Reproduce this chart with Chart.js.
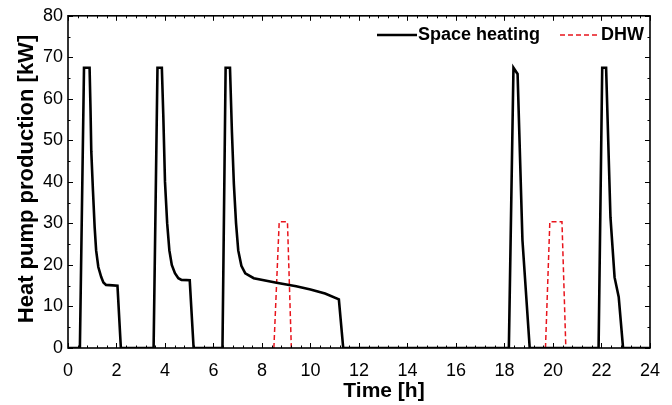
<!DOCTYPE html>
<html>
<head>
<meta charset="utf-8">
<script src="https://cdn.jsdelivr.net/npm/chart.js@4.4.1/dist/chart.umd.min.js"></script>
<style>
  body { margin: 0; background: #fff; }
  #wrap { width: 672px; height: 405px; position: relative; }
</style>
</head>
<body>
<div id="wrap"><canvas id="chart"></canvas></div>
<script>
// Space heating [h, kW]
const spaceTime = [0, 0.49, 0.66, 0.89, 0.93, 0.96, 1.03, 1.1, 1.16, 1.25, 1.37, 1.46, 1.57, 2.04, 2.18,
  3.53, 3.69, 3.87, 3.93, 4.0, 4.09, 4.18, 4.28, 4.41, 4.55, 4.68, 5.02, 5.18,
  6.37, 6.5, 6.68, 6.76, 6.84, 6.93, 7.02, 7.15, 7.31, 7.66, 8.6, 9.41, 10.0, 10.6, 11.17, 11.35,
  18.18, 18.37, 18.54, 18.74, 19.04,
  21.88, 22.03, 22.19, 22.37, 22.54, 22.71, 22.89, 24];
const spacePower = [0, 0, 67.5, 67.5, 57, 47.4, 37.8, 29, 23.5, 19.5, 17.1, 15.8, 15.2, 15, 0,
  0, 67.5, 67.5, 56, 40, 30, 23.5, 20, 18, 16.8, 16.4, 16.3, 0,
  0, 67.5, 67.5, 52, 39.5, 30, 23.5, 19.8, 18, 16.8, 15.7, 14.85, 14.1, 13.1, 11.7, 0,
  0, 67.5, 66, 26, 0,
  0, 67.5, 67.5, 31.5, 17, 12.3, 0, 0];

// DHW [h, kW], null breaks the line between events
const dhwTime = [8.49, 8.71, 9.05, 9.21, 14, 19.69, 19.87, 20.37, 20.53];
const dhwPower = [0, 30.4, 30.4, 0, null, 0, 30.4, 30.4, 0];

const xTicks = [0, 2, 4, 6, 8, 10, 12, 14, 16, 18, 20, 22, 24];
const yTicks = [0, 10, 20, 30, 40, 50, 60, 70, 80];

const FONT = '"Liberation Sans", Arial, sans-serif';

function toPoints(xs, ys) {
  return xs.map((x, i) => ({ x: x, y: ys[i] }));
}

// frame, inward ticks on all four sides, axis titles and legend
const framePlugin = {
  id: 'frame',
  afterDatasetsDraw(chart) {
    const { ctx, chartArea: a, scales } = chart;
    const xs = scales.x, ys = scales.y;
    ctx.save();
    ctx.strokeStyle = '#000';
    ctx.lineWidth = 1;
    ctx.beginPath();
    for (let v = 0; v <= 24.001; v += 0.4) {
      const px = Math.round(xs.getPixelForValue(v)) + 0.5;
      const major = Math.abs(v / 2 - Math.round(v / 2)) < 0.01;
      const len = major ? 5 : 2.5;
      ctx.moveTo(px, a.bottom); ctx.lineTo(px, a.bottom - len);
      ctx.moveTo(px, a.top); ctx.lineTo(px, a.top + len);
    }
    for (let v = 0; v <= 80; v += 5) {
      const py = Math.round(ys.getPixelForValue(v)) + 0.5;
      const len = v % 10 === 0 ? 5 : 2.5;
      ctx.moveTo(a.left, py); ctx.lineTo(a.left + len, py);
      ctx.moveTo(a.right, py); ctx.lineTo(a.right - len, py);
    }
    ctx.stroke();
    ctx.lineWidth = 1.6;
    ctx.strokeRect(a.left, a.top, a.right - a.left, a.bottom - a.top);

    // axis titles
    ctx.fillStyle = '#000';
    ctx.font = 'bold 21px ' + FONT;
    ctx.textAlign = 'center';
    ctx.textBaseline = 'middle';
    ctx.fillText('Time [h]', 384, 391);
    ctx.save();
    ctx.translate(27, 179);
    ctx.rotate(-Math.PI / 2);
    ctx.font = 'bold 22px ' + FONT;
    ctx.fillText('Heat pump production [kW]', 0, 0);
    ctx.restore();

    // legend
    const ly = 35;
    ctx.font = 'bold 18px ' + FONT;
    ctx.textAlign = 'left';
    ctx.strokeStyle = '#000';
    ctx.lineWidth = 2.5;
    ctx.beginPath(); ctx.moveTo(377, ly); ctx.lineTo(417, ly); ctx.stroke();
    ctx.fillText('Space heating', 418, ly);
    ctx.strokeStyle = '#e8141c';
    ctx.lineWidth = 1.5;
    ctx.setLineDash([5, 3]);
    ctx.beginPath(); ctx.moveTo(560, ly); ctx.lineTo(600, ly); ctx.stroke();
    ctx.setLineDash([]);
    ctx.fillText('DHW', 601, ly);
    ctx.restore();
  }
};

new Chart(document.getElementById('chart'), {
  type: 'scatter',
  data: {
    datasets: [
      {
        label: 'Space heating',
        data: toPoints(spaceTime, spacePower),
        showLine: true,
        borderColor: '#000',
        borderWidth: 2.6,
        pointRadius: 0,
        tension: 0
      },
      {
        label: 'DHW',
        data: toPoints(dhwTime, dhwPower),
        showLine: true,
        spanGaps: false,
        borderColor: '#e8141c',
        borderWidth: 1.5,
        borderDash: [5, 3],
        pointRadius: 0,
        tension: 0
      }
    ]
  },
  options: {
    responsive: true,
    maintainAspectRatio: false,
    animation: false,
    layout: { padding: { top: 14, right: 12, left: 0, bottom: 0 } },
    plugins: { legend: { display: false }, tooltip: { enabled: false } },
    scales: {
      x: {
        type: 'linear',
        min: 0,
        max: 24,
        afterFit: s => { s.height = 57; },
        afterBuildTicks: s => { s.ticks = xTicks.map(v => ({ value: v })); },
        grid: { display: false, drawTicks: false },
        border: { display: false },
        ticks: { color: '#000', padding: 12, maxRotation: 0, font: { family: FONT, size: 18 } }
      },
      y: {
        min: 0,
        max: 80,
        afterFit: s => { s.width = 68; },
        afterBuildTicks: s => { s.ticks = yTicks.map(v => ({ value: v })); },
        grid: { display: false, drawTicks: false },
        border: { display: false },
        ticks: { color: '#000', padding: 5, font: { family: FONT, size: 18 } }
      }
    }
  },
  plugins: [framePlugin]
});
</script>
</body>
</html>
